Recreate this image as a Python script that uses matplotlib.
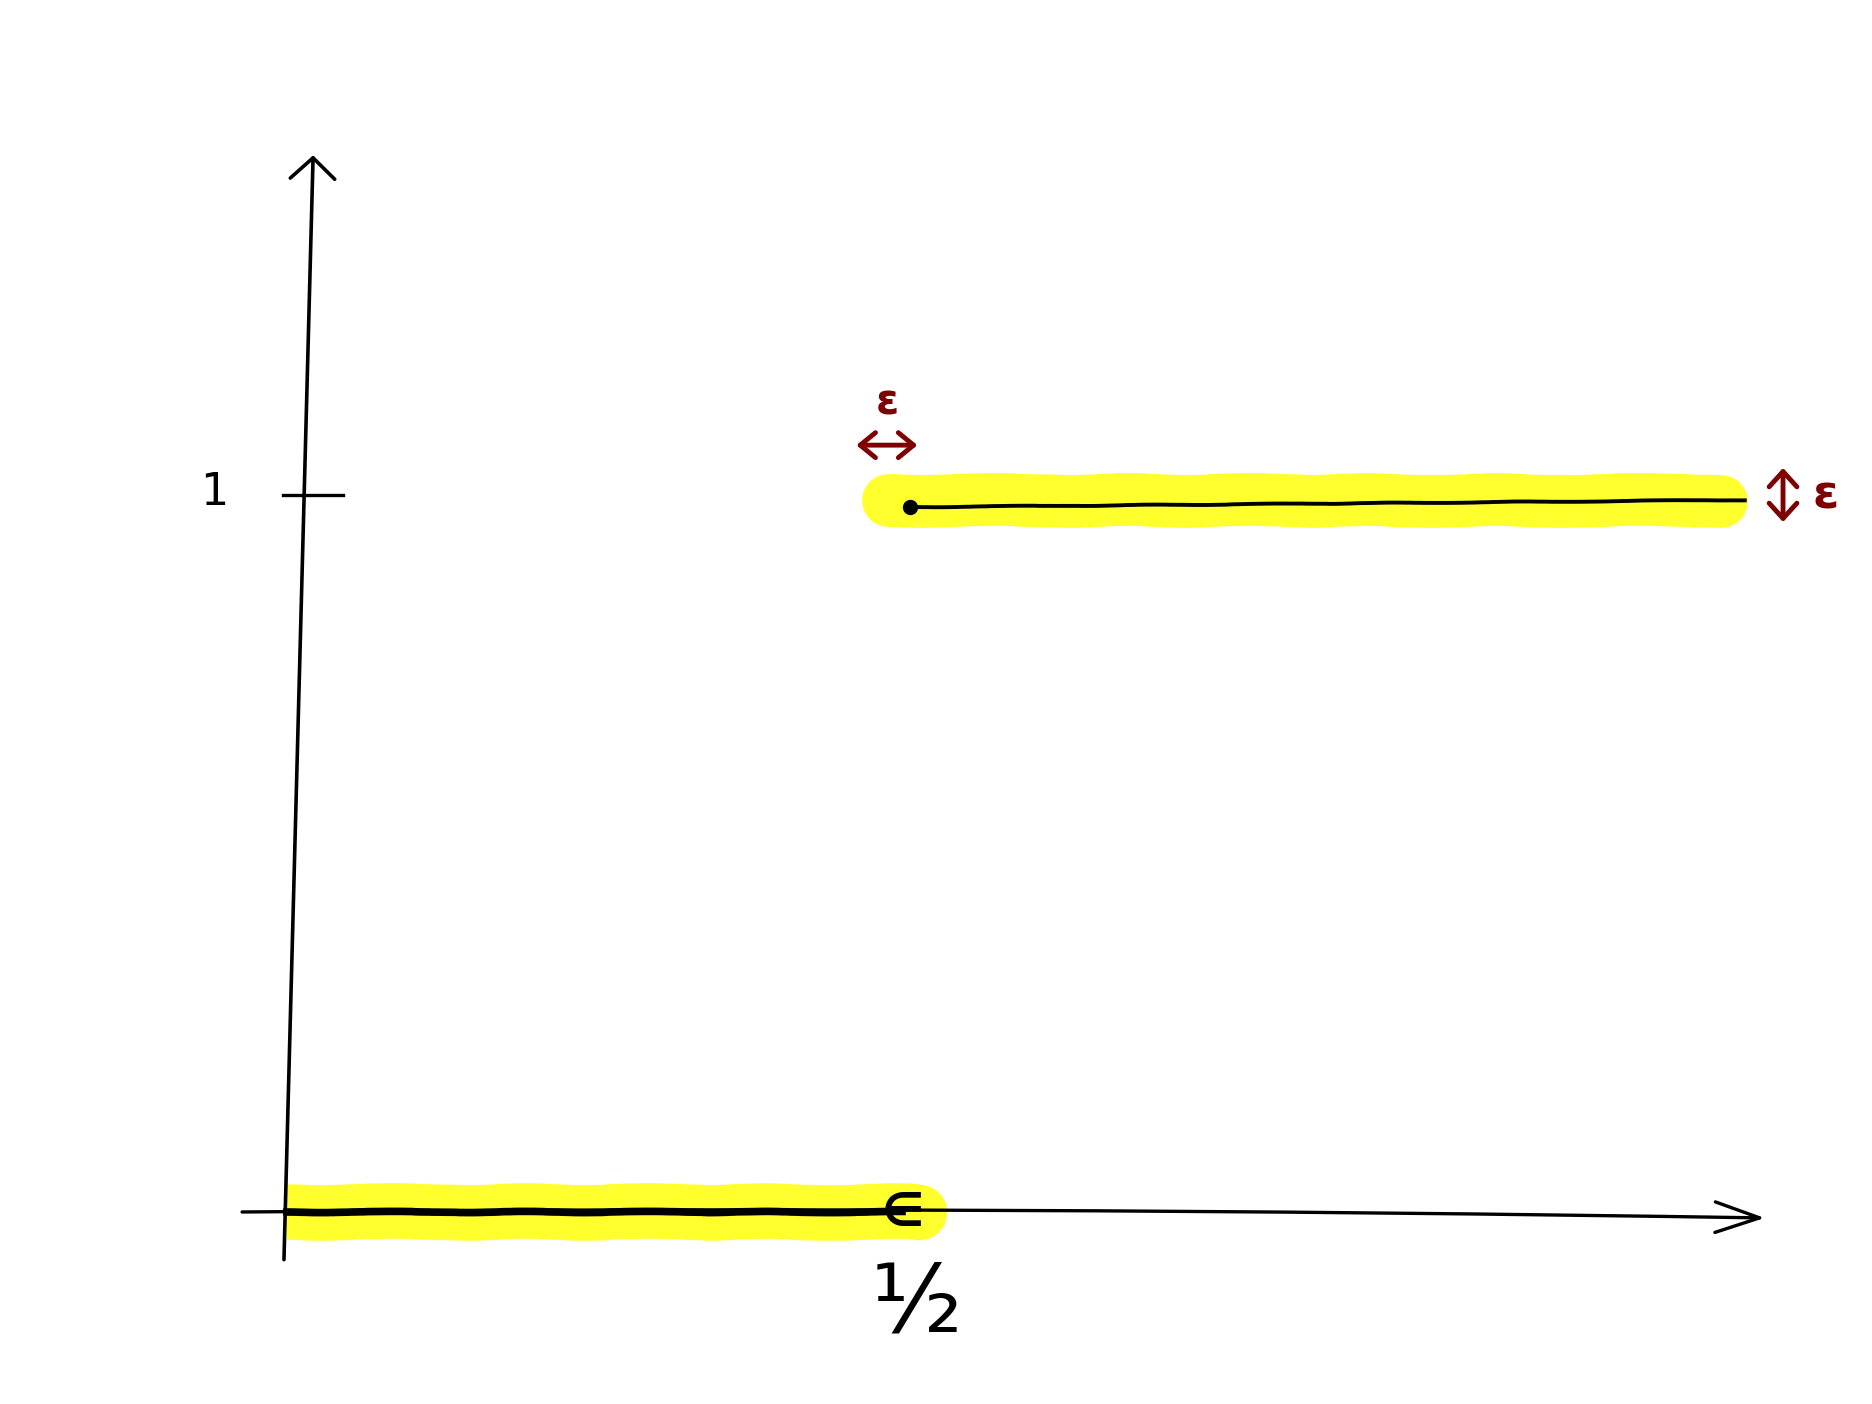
import matplotlib
matplotlib.use("Agg")
import matplotlib.pyplot as plt

# ---- data (step function) ----
jump_x = 0.5
low_value = 0.0
high_value = 1.0
x_end = 1.17
tick_values = [1.0]
tick_labels = ["1"]
xtick_label = "½"
eps_label = "ε"

RED = "#7f0000"
YELLOW = "#ffff2e"

fig = plt.figure(figsize=(18.72, 14.04), dpi=100)
ax = fig.add_axes([0, 0, 1, 1])
ax.set_xlim(-0.2303, 1.2721)
ax.set_ylim(-0.2697, 1.7022)
ax.axis("off")

def sketch(artist, s=1.0, length=250):
    artist.set_sketch_params(scale=s, length=length, randomness=10)

# ---- yellow highlight bands ----
lb, = ax.plot([0.0, jump_x + 0.007], [low_value, low_value], color=YELLOW, lw=40,
              solid_capstyle="butt", zorder=1)
sketch(lb, 1.0, 300)
ax.plot([jump_x + 0.007], [low_value], "o", color=YELLOW, ms=40, mec="none", zorder=1)
hb, = ax.plot([jump_x - 0.018, x_end - 0.019], [high_value, high_value], color=YELLOW, lw=38,
              solid_capstyle="round", zorder=1)
sketch(hb, 1.0, 300)

# ---- axes drawn by hand ----
ax.annotate("", xy=(0.021, 1.484), xytext=(-0.0024, -0.067),
            arrowprops=dict(arrowstyle="->,head_length=0.75,head_width=0.8", color="black",
                            lw=2.6, mutation_scale=20, shrinkA=0, shrinkB=0), zorder=3)
ax.annotate("", xy=(1.186, -0.0084), xytext=(-0.036, 0.0),
            arrowprops=dict(arrowstyle="->,head_length=1.6,head_width=0.55", color="black",
                            lw=2.4, mutation_scale=20, shrinkA=0, shrinkB=0,
                            connectionstyle="arc3,rad=-0.006"), zorder=3)

# tick at y = 1
for v, lab in zip(tick_values, tick_labels):
    ax.plot([-0.003, 0.045], [v + 0.007, v + 0.007], color="black", lw=2.4, zorder=3)
    ax.text(-0.058, v + 0.01, lab, fontsize=32, ha="center", va="center", color="black",
            family="DejaVu Sans")

# ---- step function ----
l1, = ax.plot([0.0, jump_x - 0.006], [low_value, low_value], color="black", lw=5.5, zorder=4)
sketch(l1, 0.6, 300)
ax.text(jump_x - 0.006, low_value - 0.002, "∈", fontsize=34, fontweight="bold",
        ha="center", va="center", color="black", zorder=5)
l2, = ax.plot([jump_x, x_end], [high_value - 0.01, high_value], color="black", lw=2.8, zorder=4)
sketch(l2, 0.4, 300)
ax.plot([jump_x], [high_value - 0.01], "o", color="black", ms=10, zorder=5)

# x label 1/2
ax.text(jump_x + 0.005, low_value - 0.132, xtick_label, fontsize=68, ha="center", va="center",
        color="black")

# ---- epsilon annotations ----
ax.text(0.482, 1.137, eps_label, fontsize=30, ha="center", va="center", color=RED,
        fontweight="bold")
ax.annotate("", xy=(0.506, 1.077), xytext=(0.457, 1.077),
            arrowprops=dict(arrowstyle="<->,head_length=0.55,head_width=0.45", color=RED,
                            lw=3.5, mutation_scale=20, shrinkA=0, shrinkB=0))
ax.annotate("", xy=(1.2007, 1.045), xytext=(1.2007, 0.969),
            arrowprops=dict(arrowstyle="<->,head_length=0.55,head_width=0.5", color=RED,
                            lw=3.5, mutation_scale=20, shrinkA=0, shrinkB=0))
ax.text(1.235, 1.005, eps_label, fontsize=34, ha="center", va="center", color=RED,
        fontweight="bold")

fig.savefig("out.png", dpi=100)
